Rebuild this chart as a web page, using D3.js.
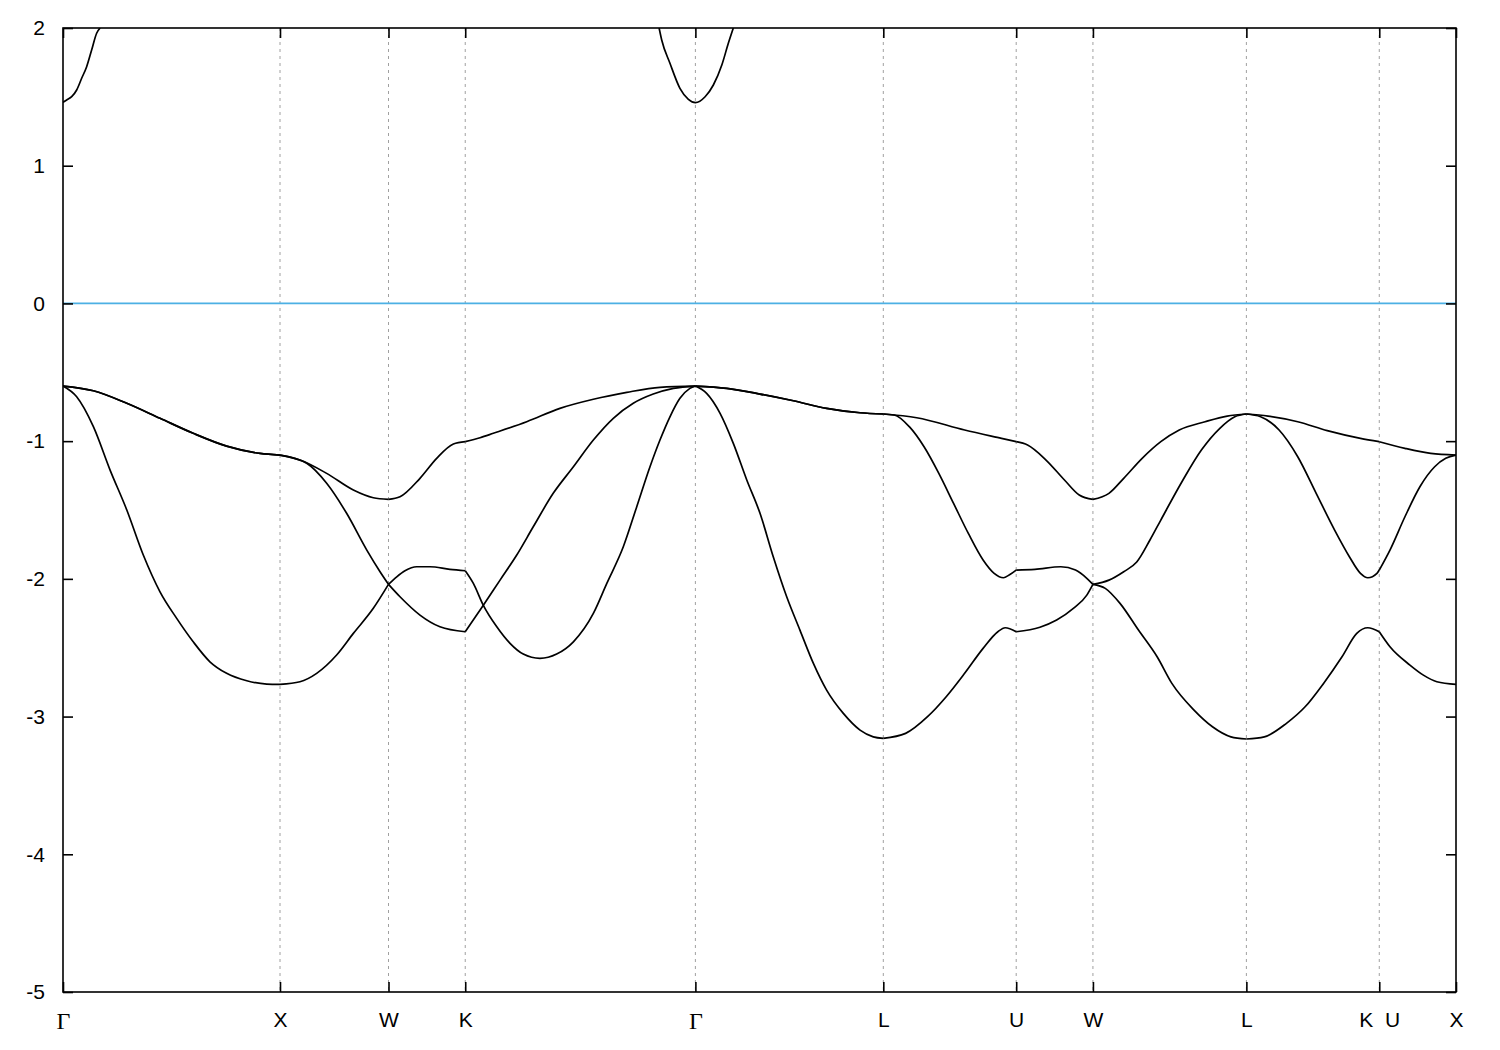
<!DOCTYPE html>
<html><head><meta charset="utf-8">
<script src="https://cdn.jsdelivr.net/npm/d3@7"></script>
<style>body{margin:0;background:#fff}</style>
</head><body><svg id="chart" width="1500" height="1050"></svg>
<script>
// ---- k-path ticks (path length units) ----
const kTicks  = [0, 1, 1.5, 1.8536, 2.9142, 3.7802, 4.3926, 4.7462, 5.4533, 6.0657, 6.4193];
const kLabels = ["Γ","X","W","K","Γ","L","U","W","L","K  U","X"];
const yTicks  = [-5, -4, -3, -2, -1, 0, 1, 2];
const fermiLevel = 0;

// ---- valence band 1 (top) [k, E] ----
const band1 = [
 [0,-0.600],[0.140,-0.634],[0.294,-0.725],[0.447,-0.834],[0.600,-0.943],[0.754,-1.036],[0.908,-1.089],[1,-1.101],
 [1.092,-1.137],[1.215,-1.234],[1.338,-1.355],[1.430,-1.411],[1.5,-1.423],
 [1.553,-1.404],[1.645,-1.270],[1.722,-1.125],[1.799,-1.021],[1.8536,-1.004],
 [1.922,-0.975],[1.983,-0.943],[2.137,-0.859],[2.290,-0.762],[2.444,-0.696],[2.598,-0.646],[2.751,-0.609],[2.9142,-0.600],
 [3.059,-0.617],[3.212,-0.658],[3.366,-0.707],[3.519,-0.762],[3.673,-0.794],[3.7802,-0.803],
 [3.934,-0.830],[4.155,-0.919],[4.325,-0.980],[4.3926,-1.004],
 [4.445,-1.028],[4.530,-1.137],[4.615,-1.282],[4.683,-1.391],[4.7462,-1.423],
 [4.820,-1.379],[4.888,-1.270],[4.973,-1.125],[5.059,-1.004],[5.144,-0.919],[5.263,-0.859],[5.365,-0.818],[5.4533,-0.803],
 [5.553,-0.818],[5.690,-0.859],[5.826,-0.924],[5.979,-0.980],[6.0657,-1.004],
 [6.184,-1.052],[6.303,-1.089],[6.4193,-1.101]
];

// ---- valence band 2 ----
const band2 = [
 [0,-0.600],[0.140,-0.634],[0.294,-0.725],[0.447,-0.834],[0.600,-0.943],[0.754,-1.036],[0.908,-1.089],[1,-1.101],
 [1.123,-1.161],[1.215,-1.306],[1.307,-1.524],[1.400,-1.791],[1.461,-1.948],[1.5,-2.040],
 [1.553,-2.130],[1.645,-2.263],[1.737,-2.348],[1.8536,-2.384],
 [1.937,-2.192],[2.014,-2.009],[2.091,-1.827],[2.167,-1.622],[2.259,-1.379],[2.352,-1.186],[2.444,-0.992],[2.536,-0.834],[2.628,-0.725],[2.720,-0.658],[2.813,-0.617],[2.9142,-0.600],
 [3.059,-0.617],[3.212,-0.658],[3.366,-0.707],[3.519,-0.762],[3.673,-0.794],[3.7802,-0.803],
 [3.831,-0.810],[3.900,-0.895],[3.968,-1.041],[4.036,-1.234],[4.104,-1.452],[4.172,-1.670],[4.240,-1.863],[4.291,-1.960],[4.334,-1.992],[4.360,-1.972],[4.3926,-1.936],
 [4.479,-1.931],[4.598,-1.912],[4.666,-1.936],[4.718,-1.996],[4.7462,-2.040],
 [4.803,-2.069],[4.871,-2.178],[4.956,-2.372],[5.042,-2.566],[5.110,-2.759],[5.212,-2.953],[5.297,-3.074],[5.382,-3.147],[5.4533,-3.163],
 [5.536,-3.147],[5.638,-3.049],[5.724,-2.929],[5.809,-2.759],[5.894,-2.566],[5.962,-2.396],[6.013,-2.355],[6.0657,-2.384],
 [6.115,-2.493],[6.207,-2.626],[6.269,-2.699],[6.331,-2.747],[6.4193,-2.766]
];

// ---- valence band 3 ----
const band3 = [
 [0,-0.600],[0.063,-0.678],[0.140,-0.895],[0.217,-1.210],[0.294,-1.500],[0.370,-1.827],[0.447,-2.094],[0.524,-2.287],[0.600,-2.457],[0.677,-2.602],[0.754,-2.686],[0.847,-2.740],[0.939,-2.764],[1,-2.766],
 [1.092,-2.747],[1.169,-2.686],[1.261,-2.553],[1.338,-2.396],[1.430,-2.214],[1.5,-2.040],
 [1.538,-1.985],[1.576,-1.941],[1.630,-1.912],[1.691,-1.912],[1.783,-1.931],[1.8536,-1.941],
 [1.891,-2.033],[1.937,-2.192],[1.999,-2.348],[2.060,-2.468],[2.121,-2.546],[2.198,-2.577],[2.275,-2.546],[2.352,-2.457],[2.444,-2.251],[2.506,-2.033],[2.582,-1.767],[2.644,-1.476],[2.705,-1.186],[2.751,-0.992],[2.797,-0.823],[2.843,-0.689],[2.889,-0.617],[2.9142,-0.600],
 [2.966,-0.653],[3.028,-0.798],[3.089,-1.016],[3.151,-1.282],[3.212,-1.524],[3.273,-1.839],[3.335,-2.130],[3.396,-2.372],[3.458,-2.614],[3.519,-2.808],[3.596,-2.977],[3.673,-3.098],[3.734,-3.147],[3.7802,-3.158],
 [3.883,-3.122],[3.984,-3.001],[4.070,-2.856],[4.155,-2.686],[4.240,-2.505],[4.308,-2.384],[4.342,-2.355],[4.3926,-2.384],
 [4.502,-2.351],[4.579,-2.299],[4.656,-2.214],[4.718,-2.118],[4.7462,-2.040],
 [4.820,-2.009],[4.888,-1.948],[4.948,-1.878],[5.009,-1.718],[5.059,-1.573],[5.161,-1.282],[5.246,-1.065],[5.331,-0.907],[5.400,-0.823],[5.4533,-0.803],
 [5.519,-0.823],[5.604,-0.919],[5.690,-1.113],[5.775,-1.379],[5.860,-1.646],[5.928,-1.839],[5.979,-1.960],[6.013,-1.992],[6.055,-1.960],[6.0657,-1.936],
 [6.115,-1.791],[6.184,-1.549],[6.253,-1.331],[6.321,-1.186],[6.372,-1.125],[6.4193,-1.101]
];

// ---- conduction band (visible parts) ----
const cbStart = [
 [0,1.460],[0.017,1.477],[0.040,1.501],[0.063,1.550],[0.086,1.635],[0.109,1.719],[0.132,1.840],[0.155,1.962],[0.171,2.000]
];
const cbCenter = [
 [2.747,2.000],[2.759,1.913],[2.797,1.744],[2.843,1.562],[2.882,1.482],[2.9142,1.458],[2.959,1.501],[2.997,1.586],[3.036,1.731],[3.066,1.889],[3.089,2.000]
];

// ---------------- drawing ----------------
const W = 1500, H = 1050;
const plot = {left: 63, right: 1456, top: 28, bottom: 992};
const svg = d3.select("#chart");
svg.append("rect").attr("width", W).attr("height", H).attr("fill", "#fff");

const x = d3.scaleLinear().domain([kTicks[0], kTicks[kTicks.length-1]]).range([plot.left, plot.right]);
const y = d3.scaleLinear().domain([yTicks[0], yTicks[yTicks.length-1]]).range([plot.bottom, plot.top]);

svg.append("defs").append("clipPath").attr("id", "clip")
  .append("rect").attr("x", plot.left).attr("y", plot.top)
  .attr("width", plot.right - plot.left).attr("height", plot.bottom - plot.top);

// dashed vertical grid at interior high-symmetry points
svg.append("g").selectAll("line").data(kTicks.slice(1, -1)).join("line")
  .attr("x1", d => x(d)).attr("x2", d => x(d))
  .attr("y1", plot.top).attr("y2", plot.bottom)
  .attr("stroke", "#a0a0a0").attr("stroke-width", 1).attr("stroke-dasharray", "3,4");

const gData = svg.append("g").attr("clip-path", "url(#clip)");

// Fermi level
gData.append("line")
  .attr("x1", x(kTicks[0])).attr("x2", x(kTicks[kTicks.length-1]))
  .attr("y1", y(fermiLevel)).attr("y2", y(fermiLevel))
  .attr("stroke", "#4cb0e4").attr("stroke-width", 1.8);

const line = d3.line().x(d => x(d[0])).y(d => y(d[1])).curve(d3.curveMonotoneX);
const segs = d3.pairs(kTicks);
[band1, band2, band3].forEach(b => {
  segs.forEach(([a, c]) => {
    const pts = b.filter(p => p[0] >= a - 1e-4 && p[0] <= c + 1e-4);
    if (pts.length > 1)
      gData.append("path").attr("d", line(pts))
        .attr("fill", "none").attr("stroke", "#000").attr("stroke-width", 1.7)
        .attr("stroke-linejoin", "round");
  });
});
[cbStart, cbCenter].forEach(b => {
  gData.append("path").attr("d", line(b))
    .attr("fill", "none").attr("stroke", "#000").attr("stroke-width", 1.7)
    .attr("stroke-linejoin", "round");
});

// axes
const fontSans = "'Liberation Sans', Arial, sans-serif";
function styleAxis(g) {
  g.select(".domain").remove();
  g.selectAll(".tick line").attr("stroke", "#000").attr("stroke-width", 1.6);
  g.attr("font-family", fontSans).attr("font-size", 21);
  g.selectAll("text").attr("fill", "#000");
}
const gBottom = svg.append("g").attr("transform", `translate(0,${plot.bottom})`)
  .call(d3.axisBottom(x).tickValues(kTicks).tickFormat((d, i) => kLabels[i])
        .tickSizeInner(-10).tickSizeOuter(0).tickPadding(20));
styleAxis(gBottom);
gBottom.selectAll("text").style("white-space", "pre");
gBottom.selectAll("text").filter(function(){ return this.textContent === "Γ"; })
  .attr("font-family", "'Liberation Serif', 'Times New Roman', serif").attr("font-size", 24);

const gTop = svg.append("g").attr("transform", `translate(0,${plot.top})`)
  .call(d3.axisTop(x).tickValues(kTicks).tickFormat("").tickSizeInner(-10).tickSizeOuter(0));
styleAxis(gTop);

const gLeft = svg.append("g").attr("transform", `translate(${plot.left},0)`)
  .call(d3.axisLeft(y).tickValues(yTicks).tickFormat(d => String(d))
        .tickSizeInner(-10).tickSizeOuter(0).tickPadding(18));
styleAxis(gLeft);

const gRight = svg.append("g").attr("transform", `translate(${plot.right},0)`)
  .call(d3.axisRight(y).tickValues(yTicks).tickFormat("").tickSizeInner(-10).tickSizeOuter(0));
styleAxis(gRight);

// frame
svg.append("rect").attr("x", plot.left).attr("y", plot.top)
  .attr("width", plot.right - plot.left).attr("height", plot.bottom - plot.top)
  .attr("fill", "none").attr("stroke", "#000").attr("stroke-width", 1.6);
</script></body></html>
